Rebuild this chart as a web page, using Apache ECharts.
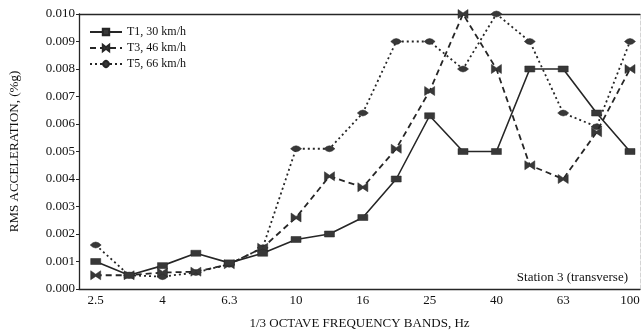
<!DOCTYPE html>
<html>
<head>
<meta charset="utf-8">
<script src="https://cdn.jsdelivr.net/npm/echarts@6/dist/echarts.min.js"></script>
<style>
  html, body { margin: 0; padding: 0; background: #fff; }
  #chart { width: 644px; height: 335px; }
</style>
</head>
<body>
<div id="chart"></div>
<script>
// 1/3 octave band centre frequencies (Hz)
var bands = ['2.5', '3.15', '4', '5', '6.3', '8', '10', '12.5', '16', '20', '25', '31.5', '40', '50', '63', '80', '100'];
// bands that carry a tick label
var labelledBands = ['2.5', '4', '6.3', '10', '16', '25', '40', '63', '100'];
var yTicks = [0, 0.001, 0.002, 0.003, 0.004, 0.005, 0.006, 0.007, 0.008, 0.009, 0.010];

// RMS acceleration per band (%g)
var t1 = [0.0010, 0.0005, 0.00085, 0.0013, 0.00095, 0.0013, 0.0018, 0.0020, 0.0026, 0.0040, 0.0063, 0.0050, 0.0050, 0.0080, 0.0080, 0.0064, 0.0050];
var t3 = [0.0005, 0.0005, 0.0006, 0.00063, 0.0009, 0.0015, 0.0026, 0.0041, 0.0037, 0.0051, 0.0072, 0.0100, 0.0080, 0.0045, 0.0040, 0.0057, 0.0080];
var t5 = [0.0016, 0.0005, 0.00045, 0.0006, 0.0009, 0.0015, 0.0051, 0.0051, 0.0064, 0.0090, 0.0090, 0.0080, 0.0100, 0.0090, 0.0064, 0.0059, 0.0090];

var seriesNames = ['T1, 30 km/h', 'T3, 46 km/h', 'T5, 66 km/h'];

function pairs(vals) {
  return vals.map(function (v, i) { return [i, v]; });
}

var ink = '#262626';
var serif = '"Liberation Serif", "DejaVu Serif", serif';

var bowtie = 'path://M0,0 L5,3 L10,0 L10,8 L5,5 L0,8 Z';
var lens = 'path://M0,4 Q5,-0.5 10,4 Q5,8.5 0,4 Z';

var chart = echarts.init(document.getElementById('chart'), null, { renderer: 'canvas' });

chart.setOption({
  animation: false,
  backgroundColor: '#fff',
  grid: { left: 72, right: 4, top: 14, bottom: 38 },
  legend: {
    orient: 'vertical',
    left: 84,
    top: 21,
    itemWidth: 32,
    itemHeight: 8,
    itemGap: 4,
    data: seriesNames,
    textStyle: { fontFamily: serif, fontSize: 12, color: '#111' }
  },
  xAxis: [{
    type: 'value',
    min: -0.5,
    max: 16.3,
    interval: 0.5,
    name: '1/3 OCTAVE FREQUENCY BANDS, Hz',
    nameLocation: 'middle',
    nameGap: 28,
    nameTextStyle: { fontFamily: serif, fontSize: 13, color: '#111' },
    axisLine: { show: true, onZero: false, lineStyle: { color: ink, width: 1.3 } },
    axisTick: { show: false },
    splitLine: { show: false },
    axisLabel: {
      fontFamily: serif, fontSize: 13, color: '#111', margin: 5,
      showMinLabel: true, showMaxLabel: true,
      formatter: function (v) {
        if (Math.abs(v - Math.round(v)) > 1e-6) return '';
        var b = bands[Math.round(v)];
        return labelledBands.indexOf(b) >= 0 ? b : '';
      }
    }
  }, {
    type: 'value',
    position: 'top',
    min: -0.5,
    max: 16.3,
    interval: 0.5,
    axisLine: { show: true, onZero: false, lineStyle: { color: ink, width: 1.3 } },
    axisTick: { show: false },
    axisLabel: { show: false },
    splitLine: { show: false }
  }],
  yAxis: [{
    type: 'value',
    min: 0,
    max: 0.01,
    interval: 0.001,
    name: 'RMS ACCELERATION, (%g)',
    nameLocation: 'middle',
    nameGap: 58,
    nameTextStyle: { fontFamily: serif, fontSize: 13, color: '#111' },
    axisLine: { show: true, onZero: false, lineStyle: { color: ink, width: 1.3 } },
    axisTick: { show: true, inside: false, length: 3, lineStyle: { color: ink } },
    splitLine: { show: false },
    axisLabel: {
      fontFamily: serif, fontSize: 13, color: '#111', margin: 4,
      formatter: function (v) { return v.toFixed(3); }
    }
  }, {
    type: 'value',
    position: 'right',
    min: 0,
    max: 0.01,
    interval: 0.001,
    axisLine: { show: true, onZero: false, lineStyle: { color: '#d4d4d4', width: 1, type: 'dashed' } },
    axisTick: { show: false },
    axisLabel: { show: false },
    splitLine: { show: false }
  }],
  series: [{
    name: seriesNames[0],
    type: 'line',
    data: pairs(t1),
    symbol: 'rect',
    symbolSize: [10, 6],
    lineStyle: { color: ink, width: 1.6, type: 'solid' },
    itemStyle: { color: '#383838', borderColor: ink, borderWidth: 0.5 },
    z: 3
  }, {
    name: seriesNames[1],
    type: 'line',
    data: pairs(t3),
    symbol: bowtie,
    symbolSize: [10, 9],
    lineStyle: { color: ink, width: 1.8, type: [6, 4] },
    itemStyle: { color: '#383838', borderColor: ink, borderWidth: 0.5 },
    z: 2
  }, {
    name: seriesNames[2],
    type: 'line',
    data: pairs(t5),
    symbol: lens,
    symbolSize: [11, 6],
    lineStyle: { color: ink, width: 1.8, type: [2, 3] },
    itemStyle: { color: '#383838', borderColor: ink, borderWidth: 0.5 },
    z: 1
  }],
  graphic: [{
    type: 'text',
    right: 16,
    top: 271,
    style: {
      text: 'Station 3 (transverse)',
      font: '13px "Liberation Serif", serif',
      fill: '#111'
    }
  }]
});
</script>
</body>
</html>
